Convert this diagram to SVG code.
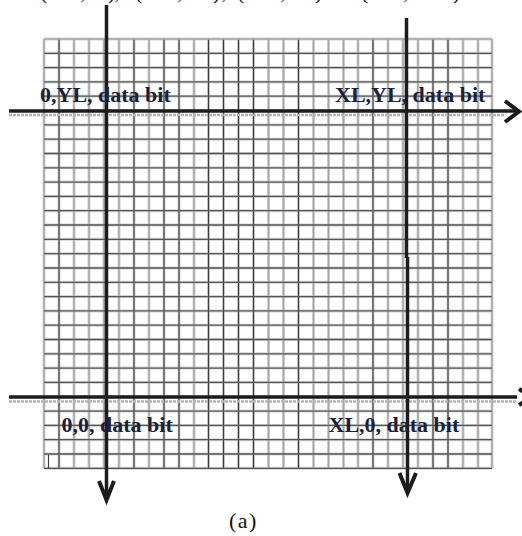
<svg xmlns="http://www.w3.org/2000/svg" width="522" height="536" viewBox="0 0 522 536">
<style>
.halo{stroke:#d4d4d4;stroke-width:3;fill:none}
.d{stroke:#3c3c3c;stroke-width:1.2;fill:none}
.l{stroke:#a6a6a6;stroke-width:1.5;fill:none}
.h{stroke:#555;stroke-width:1.3;fill:none}
.ax{stroke:#1c1c1c;stroke-width:3.5;fill:none}
.head{stroke:#1c1c1c;stroke-width:4;fill:none;stroke-linejoin:miter;stroke-linecap:butt}
.shadow{stroke:#b4b4b4;stroke-width:2.5;stroke-dasharray:3 1;fill:none}
.lbl{font-family:"Liberation Serif","Times New Roman",serif;font-weight:bold;font-size:22px;fill:#1b2238}
.cap{font-family:"Liberation Serif","Times New Roman",serif;font-size:22px;fill:#111}
</style>
<rect width="522" height="536" fill="#fff"/>
<g id="grid">
<path class="halo" d="M44,39V468.3M59,39V468.3M74,39V468.3M89,39V468.3M104,39V468.3M119,39V468.3M134,39V468.3M149,39V468.3M164,39V468.3M179,39V468.3M194,39V468.3M208.5,39V468.3M223.5,39V468.3M238.5,39V468.3M253.5,39V468.3M268.5,39V468.3M283.5,39V468.3M298.5,39V468.3M313.5,39V468.3M328.5,39V468.3M343.5,39V468.3M358,39V468.3M373,39V468.3M388,39V468.3M403,39V468.3M418,39V468.3M433,39V468.3M448,39V468.3M463,39V468.3M478,39V468.3M492,39V468.3"/>
<path class="halo" d="M44,39H492M44,53.3H492M44,67.6H492M44,81.9H492M44,96.2H492M44,110.6H492M44,124.9H492M44,139.2H492M44,153.5H492M44,167.8H492M44,182.1H492M44,196.4H492M44,210.7H492M44,225H492M44,239.3H492M44,253.7H492M44,268H492M44,282.3H492M44,296.6H492M44,310.9H492M44,325.2H492M44,339.5H492M44,353.8H492M44,368.1H492M44,382.4H492M44,396.8H492M44,411.1H492M44,425.4H492M44,439.7H492M44,454H492M44,468.3H492"/>
<path class="l" d="M44,39V468.3M74,39V468.3M89,39V468.3M104,39V468.3M119,39V468.3M149,39V468.3M194,39V468.3M268.5,39V468.3M283.5,39V468.3M313.5,39V468.3M328.5,39V468.3M343.5,39V468.3M358,39V468.3M388,39V468.3M403,39V468.3M418,39V468.3M463,39V468.3M478,39V468.3M492,39V468.3"/>
<path class="d" d="M59,39V468.3M134,39V468.3M164,39V468.3M179,39V468.3M208.5,39V468.3M223.5,39V468.3M238.5,39V468.3M253.5,39V468.3M298.5,39V468.3M373,39V468.3M433,39V468.3M448,39V468.3"/>
<path class="h" d="M44,53.3H492M44,67.6H492M44,81.9H492M44,96.2H492M44,124.9H492M44,139.2H492M44,153.5H492M44,167.8H492M44,182.1H492M44,196.4H492M44,210.7H492M44,225H492M44,239.3H492M44,253.7H492M44,268H492M44,282.3H492M44,296.6H492M44,310.9H492M44,325.2H492M44,339.5H492M44,353.8H492M44,368.1H492M44,382.4H492M44,411.1H492M44,425.4H492M44,439.7H492M44,454H492M44,468.3H492"/>
<path class="l" d="M44,39H492"/>
<path class="d" d="M48.5,455V468.3"/>
</g>
<g id="connectors">
<path class="shadow" d="M9,115H505"/>
<path class="shadow" d="M9,401.5H517"/>
<path id="axis-top" class="ax" d="M9,111H517"/>
<polyline class="head" points="505,101 519,111.5 505,122"/>
<path id="axis-bottom" class="ax" d="M9,397H517"/>
<polyline class="head" points="519,389 532,397 519,405"/>
<path id="axis-left" class="ax" d="M106.5,5V498"/>
<polyline class="head" points="99,481 106.5,500 114,481"/>
<path id="axis-right" class="ax" d="M406.5,18V258M407.5,257V491"/>
<polyline class="head" points="399.5,473 407.5,493 416,473"/>
</g>
<g id="label-0-YL"><text class="lbl" x="40" y="102">0,YL, data bit</text></g>
<g id="label-XL-YL"><text class="lbl" x="335" y="102">XL,YL, data bit</text></g>
<g id="label-0-0"><text class="lbl" x="61.5" y="431.5">0,0, data bit</text></g>
<g id="label-XL-0"><text class="lbl" x="328.5" y="431.5">XL,0, data bit</text></g>
<g id="caption"><text class="cap" x="229" y="528" font-size="24" letter-spacing="1.5">(a)</text></g>
<g id="top-fragment"><text class="cap" font-size="20" y="-1.5" x="40 80 108 114 135 177 213 221 237 280 315 361 403 453">(,),(,),(,)(,)</text></g>
</svg>
